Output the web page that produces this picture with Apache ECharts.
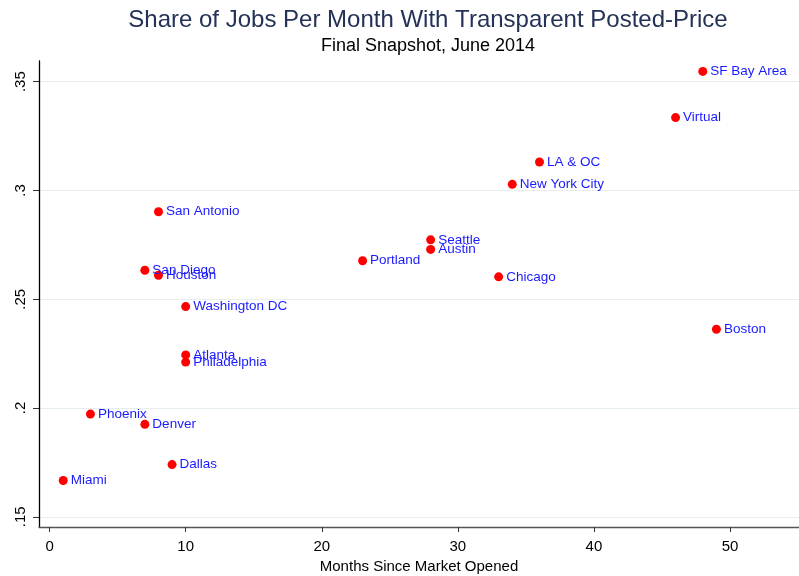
<!DOCTYPE html>
<html>
<head>
<meta charset="utf-8">
<script src="https://cdn.jsdelivr.net/npm/echarts@6/dist/echarts.min.js"></script>
<style>
html,body{margin:0;padding:0;background:#fff;}
#chart{width:799px;height:576px;}
</style>
</head>
<body>
<div id="chart"></div>
<script>
const cities = ["SF Bay Area","Virtual","LA & OC","New York City","San Antonio","Seattle","Austin","Portland","Chicago","San Diego","Houston","Washington DC","Boston","Atlanta","Philadelphia","Phoenix","Denver","Dallas","Miami"];
const months = [48,46,36,34,8,28,28,23,33,7,8,10,49,10,10,3,7,9,1];
const shares = [0.3547,0.3335,0.3131,0.3028,0.2902,0.2773,0.2729,0.2677,0.2603,0.2633,0.2610,0.2466,0.2362,0.2244,0.2211,0.1972,0.1925,0.1740,0.1667];
const xTicks = [0,10,20,30,40,50];
const yTicks = [0.15,0.2,0.25,0.3,0.35];
const yTickLabels = [".15",".2",".25",".3",".35"];

const points = cities.map((c,i)=>[months[i],shares[i],c]);
const font = "Liberation Sans, Arial, Helvetica, sans-serif";

const chart = echarts.init(document.getElementById('chart'), null, {renderer:'canvas'});
chart.setOption({
  backgroundColor:'#fff',
  animation:false,
  textStyle:{fontFamily:font},
  title:{
    text:'Share of Jobs Per Month With Transparent Posted-Price',
    subtext:'Final Snapshot, June 2014',
    left:423, top:3, textAlign:'center',
    itemGap:5,
    textStyle:{fontFamily:font,fontSize:24,fontWeight:'normal',color:'#233256'},
    subtextStyle:{fontFamily:font,fontSize:18,color:'#000'}
  },
  grid:{left:39,right:0,top:61,bottom:49,containLabel:false,outerBoundsMode:'none'},
  xAxis:{
    type:'value', min:-0.78, max:55.07,
    name:'Months Since Market Opened', nameLocation:'middle', nameGap:30,
    nameTextStyle:{fontFamily:font,fontSize:15,color:'#000'},
    axisLine:{show:true,onZero:false,lineStyle:{color:'#555',width:1.3}},
    axisTick:{show:true,length:5,customValues:xTicks,lineStyle:{color:'#333'}},
    axisLabel:{customValues:xTicks,fontFamily:font,fontSize:15,color:'#000',margin:12},
    splitLine:{show:false}
  },
  yAxis:{
    type:'value', min:0.1453, max:0.3595,
    axisLine:{show:true,onZero:false,lineStyle:{color:'#000',width:1.3}},
    axisTick:{show:true,length:6,customValues:yTicks,lineStyle:{color:'#333'}},
    axisLabel:{customValues:yTicks,rotate:90,fontFamily:font,fontSize:15,color:'#000',margin:11,
      formatter:function(v){const i=yTicks.findIndex(t=>Math.abs(t-v)<1e-6);return i>=0?yTickLabels[i]:'';}},
    splitLine:{show:true,lineStyle:{color:'#e6eef0',width:1}}
  },
  series:[{
    type:'scatter',
    data:points,
    symbol:'circle',
    symbolSize:9,
    itemStyle:{color:'#ff0000',opacity:1},
    label:{show:true,position:'right',distance:3,fontFamily:font,fontSize:13.5,color:'#1a1aff',
      formatter:function(p){return p.data[2];}},
    labelLayout:{hideOverlap:false}
  }]
});
</script>
</body>
</html>
